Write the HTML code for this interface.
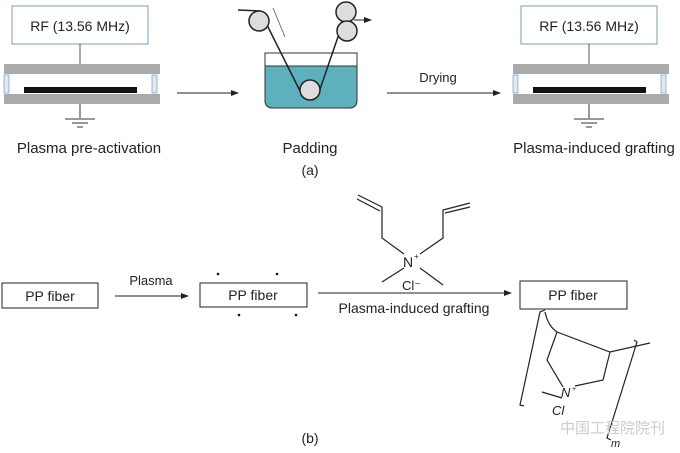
<!DOCTYPE html>
<html><head><style>body{margin:0;background:#fff}svg{display:block}text{font-family:"Liberation Sans",sans-serif;fill:#222}</style></head><body>
<svg width="680" height="453" viewBox="0 0 680 453" xmlns="http://www.w3.org/2000/svg">
<defs><marker id="a" markerWidth="8" markerHeight="6" refX="7" refY="3" orient="auto"><path d="M0,0L8,3L0,6z" fill="#222"/></marker></defs>
<g id="app">
<rect x="12" y="6" width="136" height="38" fill="#fff" stroke="#7a9cb8"/>
<text x="80" y="31" font-size="14" text-anchor="middle">RF (13.56 MHz)</text>
<line x1="80" y1="44" x2="80" y2="64" stroke="#555"/>
<rect x="4" y="64" width="156" height="10" fill="#aaa"/>
<rect x="4" y="94" width="156" height="10" fill="#aaa"/>
<rect x="4" y="75" width="5" height="18" fill="#dde9f5" stroke="#7a9cb8" stroke-width=".7"/>
<rect x="152" y="75" width="5" height="18" fill="#dde9f5" stroke="#7a9cb8" stroke-width=".7"/>
<rect x="24" y="87" width="113" height="6" fill="#111"/>
<line x1="80" y1="104" x2="80" y2="118" stroke="#333"/>
<line x1="65" y1="119" x2="95" y2="119" stroke="#333"/>
<line x1="72" y1="123" x2="88" y2="123" stroke="#333"/>
<line x1="77" y1="127" x2="83" y2="127" stroke="#333"/>
</g>
<use href="#app" transform="translate(509,0)"/>
<text x="89" y="153" font-size="15" text-anchor="middle">Plasma pre-activation</text>
<text x="594" y="153" font-size="15" text-anchor="middle">Plasma-induced grafting</text>
<line x1="177" y1="93" x2="238" y2="93" stroke="#222" marker-end="url(#a)"/>
<line x1="387" y1="93" x2="500" y2="93" stroke="#222" marker-end="url(#a)"/>
<text x="438" y="82" font-size="13" text-anchor="middle">Drying</text>
<path d="M265,53H357V100Q357,108 349,108H273Q265,108 265,100Z" fill="#fff" stroke="#333"/>
<path d="M265,66H357V100Q357,108 349,108H273Q265,108 265,100Z" fill="#5fb0bd" stroke="#333"/>
<polyline points="238,10 260,11 302,95 318,95 340,31" fill="none" stroke="#222" stroke-width="1.5"/>
<circle cx="259" cy="21" r="10" fill="#ddd" stroke="#222" stroke-width="1.5"/>
<circle cx="310" cy="90" r="10" fill="#ddd" stroke="#222" stroke-width="1.5"/>
<circle cx="346" cy="12" r="10" fill="#ddd" stroke="#222" stroke-width="1.5"/>
<circle cx="347" cy="31" r="10" fill="#ddd" stroke="#222" stroke-width="1.5"/>
<line x1="354" y1="20" x2="371" y2="20" stroke="#222" marker-end="url(#a)"/>
<line x1="273" y1="8" x2="285" y2="37" stroke="#555" stroke-width=".8"/>
<text x="310" y="153" font-size="15" text-anchor="middle">Padding</text>
<text x="310" y="175" font-size="14" text-anchor="middle">(a)</text>
<rect x="2" y="283" width="96" height="25" fill="#fff" stroke="#222"/>
<text x="50" y="301" font-size="14" text-anchor="middle">PP fiber</text>
<text x="151" y="285" font-size="13" text-anchor="middle">Plasma</text>
<line x1="115" y1="296" x2="188" y2="296" stroke="#222" marker-end="url(#a)"/>
<rect x="200" y="283" width="107" height="24" fill="#fff" stroke="#222"/>
<text x="253" y="300" font-size="14" text-anchor="middle">PP fiber</text>
<g fill="#111"><circle cx="218" cy="274" r="1.3"/><circle cx="277" cy="274" r="1.3"/><circle cx="239" cy="315" r="1.3"/><circle cx="296" cy="315" r="1.3"/></g>
<line x1="318" y1="293" x2="511" y2="293" stroke="#222" marker-end="url(#a)"/>
<text x="414" y="313" font-size="14" text-anchor="middle">Plasma-induced grafting</text>
<rect x="520" y="281" width="107" height="28" fill="#fff" stroke="#222"/>
<text x="573" y="300" font-size="14" text-anchor="middle">PP fiber</text>
<g stroke="#222" fill="none" stroke-width="1.2">
<polyline points="358,195 382,207 382,238 404,254"/>
<line x1="357" y1="199" x2="380" y2="211"/>
<polyline points="470,203 443,210 443,238 420,254"/>
<line x1="470" y1="207" x2="445" y2="213"/>
<line x1="404" y1="268" x2="382" y2="282"/>
<line x1="420" y1="268" x2="443" y2="285"/>
<path d="M545,312Q548,326 557,332L610,352L650,343"/>
<polyline points="557,332 547,360 563,387"/>
<polyline points="610,352 603,380 575,386"/>
<line x1="562" y1="398" x2="542" y2="392"/>
<polyline points="545,310 540,312 520,405 524,406"/>
<polyline points="634,340 637,342 607,438 611,440"/>
</g>
<text x="403" y="267" font-size="14">N</text><text x="414" y="259" font-size="8">+</text>
<text x="402" y="290" font-size="13">Cl⁻</text>
<text x="561" y="397" font-size="13" font-style="italic">N</text><text x="572" y="391" font-size="7">+</text>
<text x="552" y="415" font-size="13" font-style="italic">Cl</text>
<text x="611" y="447" font-size="11" font-style="italic">m</text>
<text x="560" y="433" font-size="15" style="fill:#ccc">中国工程院院刊</text>
<text x="310" y="443" font-size="14" text-anchor="middle">(b)</text>
</svg>
</body></html>
